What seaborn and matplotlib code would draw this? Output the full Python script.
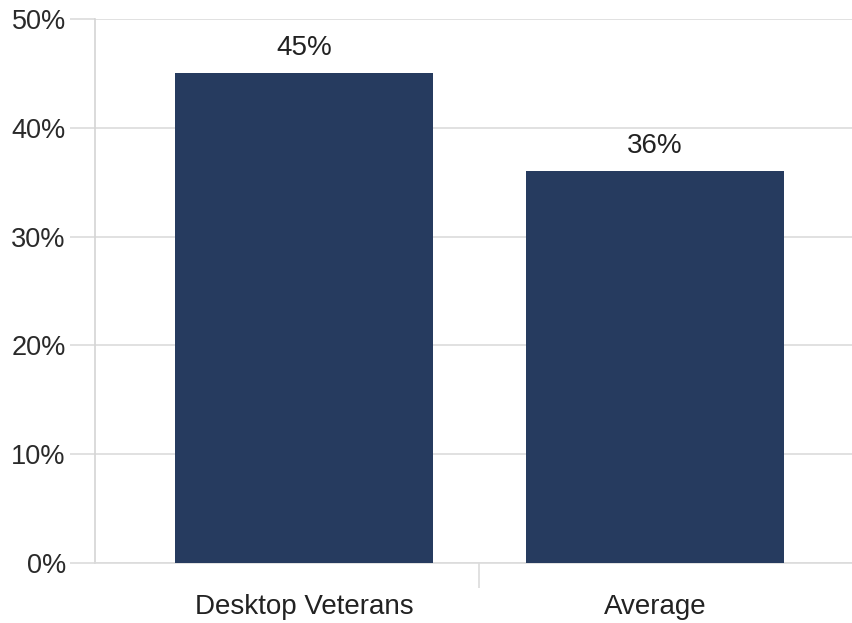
import matplotlib
matplotlib.use('Agg')
import matplotlib.pyplot as plt
import seaborn as sns
import pandas as pd

# values
categories = ['Desktop Veterans', 'Average']
shares = [45, 36]
yticks = [0, 10, 20, 30, 40, 50]

df = pd.DataFrame({'group': categories, 'share': shares})

sns.set_theme(style='white')
plt.rcParams['font.family'] = ['Liberation Sans', 'DejaVu Sans']

fig = plt.figure(figsize=(8.53, 6.23), dpi=100)
ax = fig.add_axes([0.1114, 0.0963, 0.8886, 0.8732])

sns.barplot(data=df, x='group', y='share', color='#263b5f', saturation=1,
            width=0.735, linewidth=0, ax=ax, zorder=3)

for i, v in enumerate(shares):
    ax.annotate(f'{v}%', (i, v), xytext=(0, 9), textcoords='offset points',
                ha='center', va='bottom', fontsize=20, color='#222222')

ax.set_ylim(0, 50)
ax.set_xlim(-0.595, 1.564)
ax.set_yticks(yticks)
ax.set_yticklabels([f'{t}%' for t in yticks])
ax.yaxis.grid(True, color='#dcdcdc', linewidth=1.2, zorder=0)
ax.tick_params(axis='y', length=18, width=1.2, color='#dcdcdc', pad=3,
               labelsize=19.5, labelcolor='#2a2a2a', left=True)

ax.set_xticks([0.5], minor=True)
ax.tick_params(axis='x', which='major', length=0, pad=22, labelsize=20,
               labelcolor='#222222')
ax.tick_params(axis='x', which='minor', length=18, width=1.2,
               color='#dcdcdc', bottom=True)

ax.set_xlabel('')
ax.set_ylabel('')
for s in ['top', 'right']:
    ax.spines[s].set_visible(False)
ax.spines['left'].set_color('#d4d4d4')
ax.spines['left'].set_linewidth(1.2)
ax.spines['bottom'].set_color('#dcdcdc')
ax.spines['bottom'].set_linewidth(1.2)

fig.savefig('out.png', dpi=100)
